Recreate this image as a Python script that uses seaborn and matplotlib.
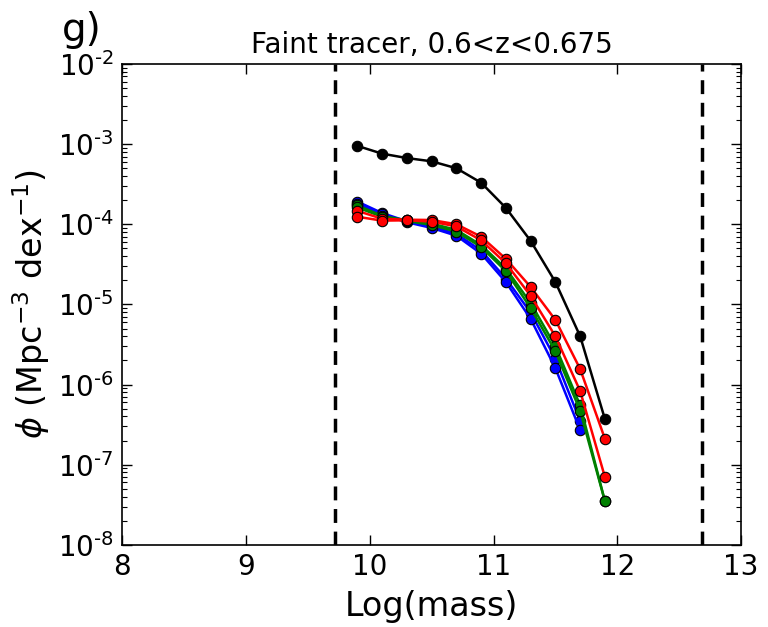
import numpy as np
import pandas as pd
import matplotlib
matplotlib.use("Agg")
import matplotlib.pyplot as plt
import seaborn as sns
from matplotlib.ticker import LogLocator, FixedLocator, FuncFormatter, NullLocator

log_mass = [9.9, 10.1, 10.3, 10.5, 10.7, 10.9, 11.1, 11.3, 11.5, 11.7, 11.9]

phi_black = [9.5e-4, 7.6e-4, 6.7e-4, 6.1e-4, 5.0e-4, 3.3e-4, 1.6e-4, 6.2e-5, 1.9e-5, 4.0e-6, 3.7e-7]
phi_blue1 = [1.92e-4, 1.38e-4, 1.09e-4, 9.4e-5, 7.6e-5, 4.7e-5, 2.1e-5, 7.9e-6, 2.1e-6, 3.5e-7, np.nan]
phi_blue2 = [1.80e-4, 1.33e-4, 1.06e-4, 9.0e-5, 7.2e-5, 4.3e-5, 1.9e-5, 6.6e-6, 1.6e-6, 2.7e-7, np.nan]
phi_green1 = [1.72e-4, 1.27e-4, 1.12e-4, 1.02e-4, 8.5e-5, 5.5e-5, 2.8e-5, 1.04e-5, 3.0e-6, 5.5e-7, 3.5e-8]
phi_green2 = [1.62e-4, 1.24e-4, 1.10e-4, 9.8e-5, 8.1e-5, 5.2e-5, 2.6e-5, 9.0e-6, 2.6e-6, 4.7e-7, 3.5e-8]
phi_red1 = [1.47e-4, 1.17e-4, 1.14e-4, 1.13e-4, 1.0e-4, 7.0e-5, 3.7e-5, 1.65e-5, 6.4e-6, 1.56e-6, 2.1e-7]
phi_red2 = [1.24e-4, 1.11e-4, 1.12e-4, 1.08e-4, 9.4e-5, 6.3e-5, 3.26e-5, 1.28e-5, 4.0e-6, 8.3e-7, 7.0e-8]

mass_limits = [9.72, 12.685]

sns.set_style("ticks", {"xtick.direction": "in", "ytick.direction": "in",
                        "text.color": "black", "axes.labelcolor": "black",
                        "xtick.color": "black", "ytick.color": "black"})
plt.rcParams["font.family"] = ["DejaVu Sans"]
plt.rcParams["mathtext.fontset"] = "dejavusans"

fig = plt.figure(figsize=(7.68, 6.27), dpi=100)
ax = fig.add_axes([0.159, 0.131, 0.806, 0.767])

series = [
    (phi_blue1, "blue"), (phi_blue2, "blue"),
    (phi_green1, "green"), (phi_green2, "green"),
    (phi_red1, "red"), (phi_red2, "red"),
    (phi_black, "black"),
]
for vals, c in series:
    d = pd.DataFrame({"m": log_mass, "phi": vals}).dropna()
    sns.lineplot(data=d, x="m", y="phi", ax=ax, color=c, lw=1.8, estimator=None,
                 marker="o", markersize=7.5, markeredgecolor="black", markeredgewidth=0.8)

for xv in mass_limits:
    ax.axvline(xv, color="black", ls="--", lw=2.5, dashes=(4, 2.5))

ax.set_yscale("log")
ax.set_xlim(8, 13)
ax.set_ylim(1e-8, 1e-2)
ax.xaxis.set_major_locator(FixedLocator([8, 9, 10, 11, 12, 13]))
ax.xaxis.set_minor_locator(NullLocator())
ax.yaxis.set_major_locator(LogLocator(base=10, numticks=20))
ax.yaxis.set_minor_locator(LogLocator(base=10, subs=np.arange(2, 10), numticks=20))
ax.yaxis.set_major_formatter(FuncFormatter(
    lambda v, _: r"$\mathdefault{10^{\text{-}%d}}$" % round(-np.log10(v))))

ax.tick_params(which="both", top=True, right=True, labelsize=20, pad=6, colors="black")
ax.tick_params(which="major", length=7, width=1)
ax.tick_params(which="minor", length=3.5, width=0.8)
for s in ax.spines.values():
    s.set_linewidth(1.2)
    s.set_color("black")

ax.set_xlabel("Log(mass)", fontsize=24, labelpad=6, color="black")
ax.set_ylabel(r"$\phi$ (Mpc$^{-3}$ dex$^{-1}$)", fontsize=24, labelpad=4, color="black")
ax.set_title("Faint tracer, 0.6<z<0.675", fontsize=20, pad=8, color="black")
fig.text(0.08, 0.935, "g)", fontsize=28, color="black")

fig.savefig("out.png", dpi=100)
